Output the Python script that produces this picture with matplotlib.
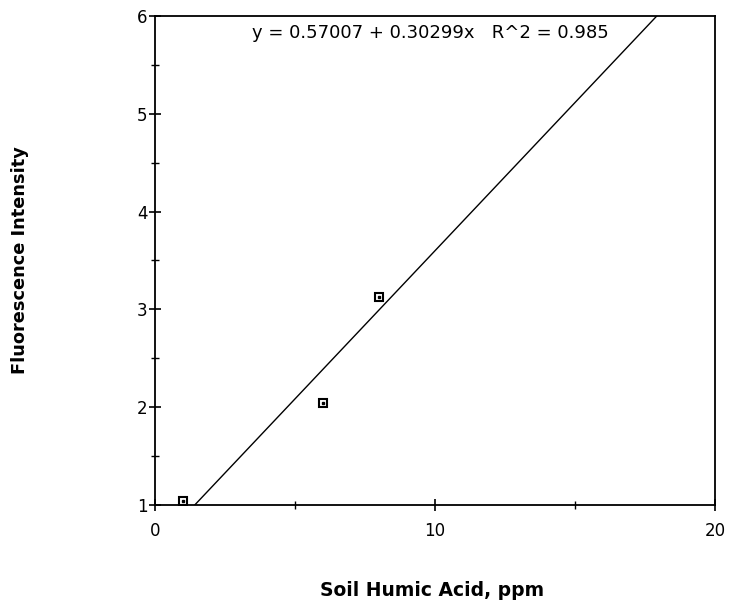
import matplotlib
matplotlib.use("Agg")
import matplotlib.pyplot as plt
import numpy as np

humic_ppm = [1, 6, 8]
fluorescence = [1.04, 2.04, 3.13]
fit_intercept = 0.57007
fit_slope = 0.30299
fit_r2 = 0.985

W, H = 736, 607
fig = plt.figure(figsize=(W / 100, H / 100), dpi=100)
ax = fig.add_axes([155 / W, 1 - 505 / H, 560 / W, 489 / H])

xs = np.array([0, 20])
ax.plot(xs, fit_intercept + fit_slope * xs, color="black", lw=1.0)
ax.plot(humic_ppm, fluorescence, linestyle="none", marker="s", markersize=6,
        markerfacecolor="white", markeredgecolor="black", markeredgewidth=1.5)
ax.plot(humic_ppm, fluorescence, linestyle="none", marker="s", markersize=1.5,
        color="black")

ax.set_xlim(0, 20)
ax.set_ylim(1, 6)
ax.set_xticks([0, 10, 20])
ax.set_xticks([5, 15], minor=True)
ax.set_yticks([1, 2, 3, 4, 5, 6])
ax.set_yticks([1.5, 2.5, 3.5, 4.5, 5.5], minor=True)
ax.tick_params(axis="both", which="major", direction="inout", length=9, width=1.2,
               labelsize=12, top=False, right=False)
ax.tick_params(axis="both", which="minor", direction="inout", length=6, width=1.0,
               top=False, right=False)
ax.tick_params(axis="x", pad=8)
ax.tick_params(axis="y", pad=1)
for s in ax.spines.values():
    s.set_linewidth(1.3)

ax.text(9.85, 5.83,
        f"y = {fit_intercept:.5f} + {fit_slope:.5f}x   R^2 = {fit_r2}",
        ha="center", va="center", fontsize=13)

fig.text(432 / W, 1 - 591 / H, "Soil Humic Acid, ppm", fontsize=13.5,
         fontweight="bold", ha="center", va="center")
fig.text(20 / W, 1 - 260 / H, "Fluorescence Intensity", fontsize=12.8,
         fontweight="bold", ha="center", va="center", rotation=90)

fig.savefig("out.png", dpi=100)
